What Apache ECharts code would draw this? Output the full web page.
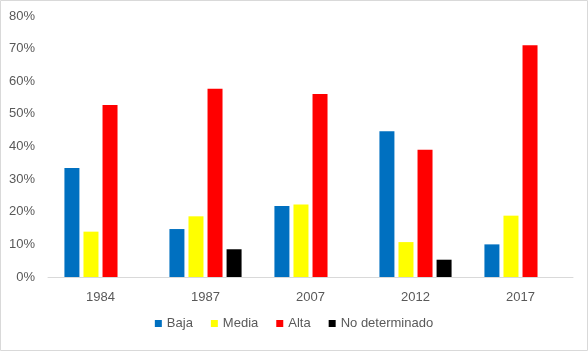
<!DOCTYPE html>
<html>
<head>
<meta charset="utf-8">
<script src="https://cdn.jsdelivr.net/npm/echarts@6/dist/echarts.min.js"></script>
<style>
  html, body { margin: 0; padding: 0; background: #fff; }
  #main { width: 588px; height: 351px; }
</style>
</head>
<body>
<div id="main"></div>
<script>
// años
const years = ['1984', '1987', '2007', '2012', '2017'];
// porcentajes
const baja = [33.4, 14.7, 21.8, 44.7, 10.0];
const media = [13.9, 18.6, 22.2, 10.7, 18.8];
const alta = [52.7, 57.7, 56.1, 39.0, 71.0];
const noDeterminado = [0, 8.5, 0, 5.3, 0];
const yTicks = [0, 10, 20, 30, 40, 50, 60, 70, 80];

const chart = echarts.init(document.getElementById('main'));
const font = 'Liberation Sans, Arial, sans-serif';

function bar (name, color, data) {
  return {
    name: name,
    type: 'bar',
    data: data,
    barWidth: 15,
    barGap: '27%',
    itemStyle: { color: color },
    emphasis: { disabled: true }
  };
}

chart.setOption({
  animation: false,
  graphic: [{
    type: 'rect',
    shape: { x: 0.5, y: 0.5, width: 587, height: 350 },
    style: { fill: 'none', stroke: '#d9d9d9', lineWidth: 1 },
    silent: true
  }],
  grid: { left: 48, right: 15, top: 16, bottom: 74 },
  legend: {
    bottom: 16,
    left: 'center',
    itemWidth: 7,
    itemHeight: 7,
    itemGap: 18,
    icon: 'rect',
    textStyle: { color: '#595959', fontSize: 13, fontFamily: font },
    data: ['Baja', 'Media', 'Alta', 'No determinado']
  },
  xAxis: {
    type: 'category',
    data: years,
    axisLine: { lineStyle: { color: '#d9d9d9', width: 1 } },
    axisTick: { show: false },
    axisLabel: { color: '#595959', fontSize: 13, fontFamily: font, margin: 14 }
  },
  yAxis: {
    type: 'value',
    min: yTicks[0],
    max: yTicks[yTicks.length - 1],
    interval: 10,
    axisLine: { show: false },
    axisTick: { show: false },
    splitLine: { show: false },
    axisLabel: {
      color: '#595959', fontSize: 13, fontFamily: font, margin: 13,
      formatter: (v) => v + '%'
    }
  },
  series: [
    bar('Baja', '#0070c0', baja),
    bar('Media', '#ffff00', media),
    bar('Alta', '#ff0000', alta),
    bar('No determinado', '#000000', noDeterminado)
  ]
});
</script>
</body>
</html>
